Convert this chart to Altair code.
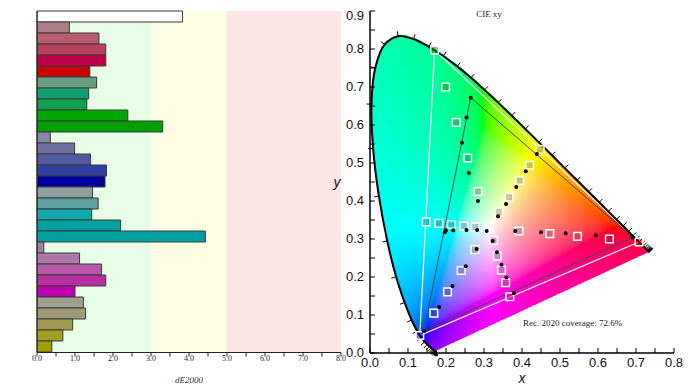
import altair as alt
import numpy as np
import pandas as pd

# ---------------- data ----------------
bar_values = [3.83, 0.85, 1.63, 1.81, 1.81, 1.39,
              1.57, 1.36, 1.31, 2.39, 3.31,
              0.35, 0.99, 1.41, 1.83, 1.79,
              1.46, 1.61, 1.44, 2.20, 4.43,
              0.18, 1.12, 1.70, 1.81, 1.00,
              1.22, 1.28, 0.94, 0.68, 0.39]
bar_colors = ["#ffffff", "#b07c88", "#b85c70", "#b8405c", "#c00048", "#c80000",
              "#6a9c80", "#10a070", "#10a050", "#00a800", "#00a000",
              "#8888a8", "#7070a0", "#5058a0", "#3040a0", "#0000a0",
              "#90a0a0", "#60a0a0", "#10a8a8", "#00a0a0", "#00a0a0",
              "#a080a0", "#b078a8", "#b858a8", "#b830a0", "#c000b0",
              "#a0a090", "#a09a78", "#a09a50", "#a0a020", "#a0a000"]
zone_lo = [0, 3, 5]
zone_hi = [3, 5, 8]
zone_colors = ["#e6ffe6", "#ffffe6", "#ffe6e6"]
de_ticks = [0, 0.5, 1, 1.5, 2, 2.5, 3, 3.5, 4, 4.5, 5, 5.5, 6, 6.5, 7, 7.5, 8]
de_label_vals = [0, 1, 2, 3, 4, 5, 6, 7, 8]
de_labels = ["0.0", "1.0", "2.0", "3.0", "4.0", "5.0", "6.0", "7.0", "8.0"]

# targets (squares): white, red x5, green x5, blue x5, cyan x5, magenta x5, yellow x5
target_x = [0.313,
            0.392, 0.473, 0.546, 0.630, 0.708,
            0.284, 0.257, 0.227, 0.199, 0.170,
            0.276, 0.240, 0.204, 0.168, 0.131,
            0.277, 0.247, 0.214, 0.181, 0.148,
            0.325, 0.335, 0.346, 0.357, 0.368,
            0.339, 0.366, 0.394, 0.420, 0.448]
target_y = [0.328,
            0.321, 0.314, 0.307, 0.300, 0.292,
            0.425, 0.513, 0.607, 0.700, 0.797,
            0.272, 0.217, 0.161, 0.105, 0.046,
            0.332, 0.334, 0.338, 0.341, 0.345,
            0.296, 0.255, 0.218, 0.185, 0.148,
            0.371, 0.410, 0.454, 0.494, 0.536]
# measured (dots)
meas_x = [0.307,
          0.382, 0.450, 0.515, 0.594, 0.691,
          0.284, 0.260, 0.242, 0.254, 0.265,
          0.281, 0.252, 0.217, 0.182, 0.142,
          0.282, 0.254, 0.219, 0.200, 0.197,
          0.323, 0.334, 0.346, 0.359, 0.379,
          0.337, 0.358, 0.385, 0.410, 0.439]
meas_y = [0.321,
          0.321, 0.318, 0.315, 0.310, 0.304,
          0.400, 0.474, 0.553, 0.620, 0.672,
          0.274, 0.228, 0.176, 0.121, 0.057,
          0.324, 0.324, 0.323, 0.323, 0.318,
          0.295, 0.265, 0.232, 0.199, 0.157,
          0.360, 0.392, 0.437, 0.478, 0.524]
primary_idx = [5, 10, 15]  # red, green, blue (full saturation)

# CIE 1931 2 deg spectral locus, 380-700 nm every 5 nm
locus_nm = list(range(380, 705, 5))
locus_x = [0.1741, 0.1740, 0.1738, 0.1736, 0.1733, 0.1730, 0.1726, 0.1721, 0.1714, 0.1703,
           0.1689, 0.1669, 0.1644, 0.1611, 0.1566, 0.1510, 0.1440, 0.1355, 0.1241, 0.1096,
           0.0913, 0.0687, 0.0454, 0.0235, 0.0082, 0.0039, 0.0139, 0.0389, 0.0743, 0.1142,
           0.1547, 0.1929, 0.2296, 0.2658, 0.3016, 0.3373, 0.3731, 0.4087, 0.4441, 0.4788,
           0.5125, 0.5448, 0.5752, 0.6029, 0.6270, 0.6482, 0.6658, 0.6801, 0.6915, 0.7006,
           0.7079, 0.7140, 0.7190, 0.7230, 0.7260, 0.7283, 0.7300, 0.7311, 0.7320, 0.7327,
           0.7334, 0.7340, 0.7344, 0.7346, 0.7347]
locus_y = [0.0050, 0.0050, 0.0049, 0.0049, 0.0048, 0.0048, 0.0048, 0.0048, 0.0051, 0.0058,
           0.0069, 0.0086, 0.0109, 0.0138, 0.0177, 0.0227, 0.0297, 0.0399, 0.0578, 0.0868,
           0.1327, 0.2007, 0.2950, 0.4127, 0.5384, 0.6548, 0.7502, 0.8120, 0.8338, 0.8262,
           0.8059, 0.7816, 0.7543, 0.7243, 0.6923, 0.6589, 0.6245, 0.5896, 0.5547, 0.5202,
           0.4866, 0.4544, 0.4242, 0.3965, 0.3725, 0.3514, 0.3340, 0.3197, 0.3083, 0.2993,
           0.2920, 0.2859, 0.2809, 0.2770, 0.2740, 0.2717, 0.2700, 0.2689, 0.2680, 0.2673,
           0.2666, 0.2660, 0.2656, 0.2654, 0.2653]

xy_ticks_x = [0.0, 0.05, 0.1, 0.15, 0.2, 0.25, 0.3, 0.35, 0.4, 0.45, 0.5, 0.55, 0.6, 0.65, 0.7, 0.75, 0.8]
xy_ticks_y = [0.0, 0.05, 0.1, 0.15, 0.2, 0.25, 0.3, 0.35, 0.4, 0.45, 0.5, 0.55, 0.6, 0.65, 0.7, 0.75, 0.8, 0.85, 0.9]
xy_major_x = [0.0, 0.1, 0.2, 0.3, 0.4, 0.5, 0.6, 0.7, 0.8]
xy_labels_x = ["0.0", "0.1", "0.2", "0.3", "0.4", "0.5", "0.6", "0.7", "0.8"]
xy_major_y = [0.0, 0.1, 0.2, 0.3, 0.4, 0.5, 0.6, 0.7, 0.8, 0.9]
xy_labels_y = ["0.0", "0.1", "0.2", "0.3", "0.4", "0.5", "0.6", "0.7", "0.8", "0.9"]

# ---------------- scales (pixel ranges) ----------------
XL = alt.Scale(domain=[0, 8], range=[29, 333], nice=False, zero=False)
YL = alt.Scale(domain=[0, 31], range=[3, 344], nice=False, zero=False)
XR = alt.Scale(domain=[0, 0.8], range=[362, 666], nice=False, zero=False)
YR = alt.Scale(domain=[0, 0.9], range=[345, 3], nice=False, zero=False)
SERIF = "Liberation Serif"
SANS = "Liberation Sans"


def xl(f):
    return alt.X(f, scale=XL, axis=None)


def yl(f):
    return alt.Y(f, scale=YL, axis=None)


def xr(f):
    return alt.X(f, scale=XR, axis=None)


def yr(f):
    return alt.Y(f, scale=YR, axis=None)


one = alt.Data(values=[{}])

# ---------------- left panel ----------------
zones_df = pd.DataFrame({"lo": zone_lo, "hi": zone_hi, "c": zone_colors})
zones = alt.Chart(zones_df).mark_rect().encode(
    x=xl("lo:Q"), x2="hi:Q", y=alt.value(3), y2=alt.value(344),
    color=alt.Color("c:N", scale=None))

bars_df = pd.DataFrame({"i": list(range(len(bar_values))), "v": bar_values, "c": bar_colors})
bars = alt.Chart(bars_df).transform_calculate(
    i2="datum.i + 1", z="0").mark_rect(stroke="#3a3a3a", strokeWidth=1).encode(
    x=xl("z:Q"), x2="v:Q", y=yl("i:Q"), y2="i2:Q",
    color=alt.Color("c:N", scale=None))

left_axes = alt.Chart(one).mark_rule(color="#222", strokeWidth=1).encode(
    x=alt.value(29), x2=alt.value(333), y=alt.value(344.5))
left_vaxis = alt.Chart(one).mark_rule(color="#222", strokeWidth=1).encode(
    x=alt.value(29), y=alt.value(3), y2=alt.value(344.5))
left_ticks = alt.Chart(pd.DataFrame({"t": de_ticks})).mark_rule(color="#222").encode(
    x=xl("t:Q"), y=alt.value(344.5), y2=alt.value(348.5))
left_labels = alt.Chart(pd.DataFrame({"v": de_label_vals, "s": de_labels})).mark_text(
    font=SERIF, fontSize=8, color="#222", baseline="middle").encode(
    x=xl("v:Q"), y=alt.value(351), text="s:N")
left_title = alt.Chart(one).mark_text(
    font=SERIF, fontSize=9, fontStyle="italic", color="#333", baseline="middle").encode(
    x=alt.value(181), y=alt.value(372), text=alt.value("dE2000"))

# ---------------- right panel ----------------
lx = np.array(locus_x)
ly = np.array(locus_y)


def centripetal_cr(px, py, n=12):
    pts = np.stack([px, py], axis=1)
    pts = np.vstack([pts[0], pts, pts[-1]])
    out = []
    for i in range(1, len(pts) - 2):
        P = pts[i - 1:i + 3]
        d = [max(np.linalg.norm(P[k + 1] - P[k]) ** 0.5, 1e-6) for k in range(3)]
        t0, t1 = 0.0, d[0]
        t2, t3 = t1 + d[1], t1 + d[1] + d[2]
        for t in np.linspace(t1, t2, n, endpoint=False):
            A1 = (t1 - t) / (t1 - t0) * P[0] + (t - t0) / (t1 - t0) * P[1]
            A2 = (t2 - t) / (t2 - t1) * P[1] + (t - t1) / (t2 - t1) * P[2]
            A3 = (t3 - t) / (t3 - t2) * P[2] + (t - t2) / (t3 - t2) * P[3]
            B1 = (t2 - t) / (t2 - t0) * A1 + (t - t0) / (t2 - t0) * A2
            B2 = (t3 - t) / (t3 - t1) * A2 + (t - t1) / (t3 - t1) * A3
            out.append((t2 - t) / (t2 - t1) * B1 + (t - t1) / (t2 - t1) * B2)
    out.append(pts[-1])
    out = np.array(out)
    return out[:, 0], out[:, 1]


mx, my = centripetal_cr(lx, ly)


def inside(px, py, vx, vy):
    res = np.zeros(px.shape, dtype=bool)
    n = len(vx)
    j = n - 1
    for i in range(n):
        dy = vy[j] - vy[i]
        if dy == 0:
            j = i
            continue
        cond = ((vy[i] > py) != (vy[j] > py)) & (px < (vx[j] - vx[i]) * (py - vy[i]) / dy + vx[i])
        res ^= cond
        j = i
    return res


# chromaticity background: xy -> XYZ (Y=1) -> linear sRGB, out-of-gamut desaturated with white
step = 0.005
cx = np.arange(0, 0.76, step) + step / 2
cy = np.arange(0, 0.86, step) + step / 2
GX, GY = np.meshgrid(cx, cy)
GX = GX.ravel()
GY = GY.ravel()
m = inside(GX, GY, mx, my)
GX, GY = GX[m], GY[m]
Xc = GX / GY
Zc = (1 - GX - GY) / GY
R = 3.2406 * Xc - 1.5372 - 0.4986 * Zc
G = -0.9689 * Xc + 1.8758 + 0.0415 * Zc
B = 0.0557 * Xc - 0.2040 + 1.0570 * Zc
rgb = np.stack([R, G, B], axis=1)
mn = np.minimum(rgb.min(axis=1, keepdims=True), 0)
rgb = rgb - mn
rgb = rgb / rgb.max(axis=1, keepdims=True)
rgb = np.where(rgb <= 0.0031308, 12.92 * rgb, 1.055 * rgb ** (1 / 2.4) - 0.055)
rgb = np.clip(np.round(rgb * 255), 0, 255).astype(int)
hexc = ["#%02x%02x%02x" % tuple(c) for c in rgb]
grid_df = pd.DataFrame({"x": np.round(GX - step / 2, 4), "y": np.round(GY - step / 2, 4), "c": hexc})
grid = alt.Chart(grid_df).transform_calculate(
    x2="datum.x + 0.0068", y2="datum.y + 0.0068").mark_rect().encode(
    x=xr("x:Q"), x2="x2:Q", y=yr("y:Q"), y2="y2:Q", color=alt.Color("c:N", scale=None))

# clean edge along the line of purples (between the two ends of the locus)
purple_df = pd.DataFrame({"o": [0, 1], "x": [locus_x[0], locus_x[-1]], "y": [locus_y[0], locus_y[-1]]})
purple_edge = alt.Chart(purple_df).transform_calculate(
    yo="datum.y - 0.0035").mark_line(color="white", strokeWidth=3).encode(
    x=xr("x:Q"), y=yr("yo:Q"), order="o:Q")

# triangles
rec_idx = primary_idx + [primary_idx[0]]
rec_df = pd.DataFrame({"o": range(4), "x": [target_x[k] for k in rec_idx], "y": [target_y[k] for k in rec_idx]})
rec_tri = alt.Chart(rec_df).mark_line(color="white", strokeWidth=1.2).encode(
    x=xr("x:Q"), y=yr("y:Q"), order="o:Q")
meas_df_tri = pd.DataFrame({"o": range(4), "x": [meas_x[k] for k in rec_idx], "y": [meas_y[k] for k in rec_idx]})
meas_tri = alt.Chart(meas_df_tri).mark_line(color="#4a4a4a", strokeWidth=1).encode(
    x=xr("x:Q"), y=yr("y:Q"), order="o:Q")

locus_df = pd.DataFrame({"nm": locus_nm, "x": locus_x, "y": locus_y})
locus = alt.Chart(locus_df).mark_line(color="black", strokeWidth=2, interpolate="catmull-rom").encode(
    x=xr("x:Q"), y=yr("y:Q"), order="nm:Q")

# wavelength ticks (outward normals of the locus)
tx = np.gradient(lx)
ty = np.gradient(ly)
nrm = np.hypot(tx, ty) + 1e-12
nx, ny = -ty / nrm, tx / nrm
L = 0.013
lt_df = pd.DataFrame({"x": lx, "y": ly, "x2": lx + L * nx, "y2": ly + L * ny})
locus_ticks = alt.Chart(lt_df).mark_rule(color="black", strokeWidth=1).encode(
    x=xr("x:Q"), y=yr("y:Q"), x2="x2:Q", y2="y2:Q")

sq_df = pd.DataFrame({"x": target_x, "y": target_y, "c": bar_colors})
squares = alt.Chart(sq_df).mark_square(size=58, fillOpacity=0.55, stroke="white", strokeWidth=1.5, opacity=1).encode(
    x=xr("x:Q"), y=yr("y:Q"), fill=alt.Fill("c:N", scale=None))
dots_df = pd.DataFrame({"x": meas_x, "y": meas_y})
dots = alt.Chart(dots_df).mark_circle(size=16, color="black", opacity=1).encode(
    x=xr("x:Q"), y=yr("y:Q"))

cie_title = alt.Chart(one).mark_text(font=SERIF, fontSize=9, color="#222", baseline="middle").encode(
    x=alt.value(481), y=alt.value(6), text=alt.value("CIE xy"))
coverage = alt.Chart(one).mark_text(font=SERIF, fontSize=9, color="#222", baseline="middle", align="left").encode(
    x=alt.value(515), y=alt.value(315), text=alt.value("Rec. 2020 coverage: 72.6%"))

r_xaxis = alt.Chart(one).mark_rule(color="black", strokeWidth=1.5).encode(
    x=alt.value(362), x2=alt.value(666), y=alt.value(345))
r_yaxis = alt.Chart(one).mark_rule(color="black", strokeWidth=1.5).encode(
    x=alt.value(362), y=alt.value(3), y2=alt.value(345))
r_xticks = alt.Chart(pd.DataFrame({"t": xy_ticks_x})).mark_rule(color="black").encode(
    x=xr("t:Q"), y=alt.value(345), y2=alt.value(340))
r_yticks = alt.Chart(pd.DataFrame({"t": xy_ticks_y})).mark_rule(color="black").encode(
    y=yr("t:Q"), x=alt.value(362), x2=alt.value(367))
r_xlabels = alt.Chart(pd.DataFrame({"v": xy_major_x, "s": xy_labels_x})).mark_text(
    font=SANS, fontSize=13, color="#111", baseline="middle").encode(
    x=xr("v:Q"), y=alt.value(355), text="s:N")
# keep the topmost label inside the canvas
r_ylabels = alt.Chart(pd.DataFrame({"v": xy_major_y, "s": xy_labels_y})).transform_calculate(
    pos="datum.v >= 0.89 ? 0.888 : datum.v").mark_text(
    font=SANS, fontSize=13, color="#111", baseline="middle", align="right").encode(
    y=yr("pos:Q"), x=alt.value(356), text="s:N")
r_xtitle = alt.Chart(one).mark_text(font=SANS, fontSize=14, fontStyle="italic", color="#111", baseline="middle").encode(
    x=alt.value(514), y=alt.value(371), text=alt.value("x"))
r_ytitle = alt.Chart(one).mark_text(font=SANS, fontSize=14, fontStyle="italic", color="#111", baseline="middle").encode(
    x=alt.value(329), y=alt.value(175), text=alt.value("y"))

chart = alt.layer(
    zones, bars, left_axes, left_vaxis, left_ticks, left_labels, left_title,
    grid, purple_edge, rec_tri, meas_tri, locus, locus_ticks, squares, dots,
    cie_title, coverage, r_xaxis, r_yaxis, r_xticks, r_yticks, r_xlabels, r_ylabels, r_xtitle, r_ytitle,
).resolve_scale(x="independent", y="independent").properties(
    width=677, height=382, padding=0,
    autosize=alt.AutoSizeParams(type="none"),
).configure_view(stroke=None)

chart.save("out.html", embed_options={"renderer": "svg", "actions": False})
